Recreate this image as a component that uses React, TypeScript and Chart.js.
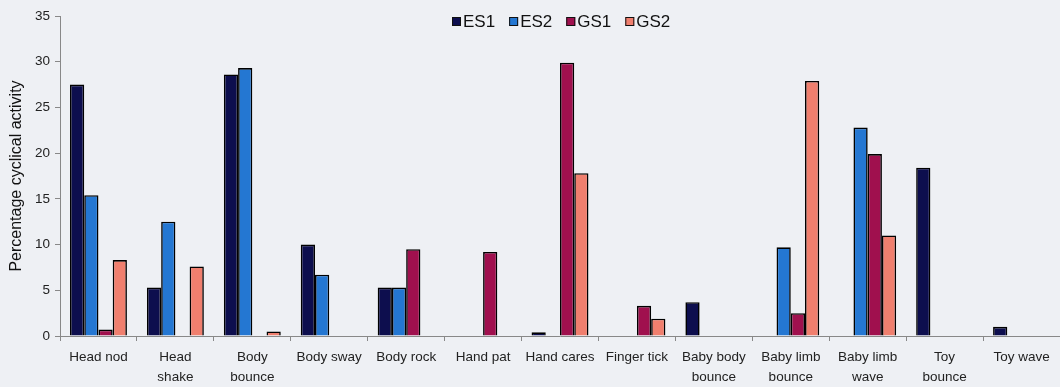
import React, { useEffect, useRef } from "react";
import { Chart, registerables } from "chart.js";

Chart.register(...registerables);

const categories: (string | string[])[] = [
  "Head nod",
  ["Head", "shake"],
  ["Body", "bounce"],
  "Body sway",
  "Body rock",
  "Hand pat",
  "Hand cares",
  "Finger tick",
  ["Baby body", "bounce"],
  ["Baby limb", "bounce"],
  ["Baby limb", "wave"],
  ["Toy", "bounce"],
  "Toy wave",
];

const es1 = [27.5, 5.3, 28.6, 10.0, 5.3, 0, 0.4, 0, 3.7, 0, 0, 18.4, 1.0];
const es2 = [15.4, 12.5, 29.3, 6.7, 5.3, 0, 0, 0, 0, 9.7, 22.8, 0, 0];
const gs1 = [0.7, 0, 0, 0, 9.5, 9.2, 29.9, 3.3, 0, 2.5, 19.9, 0, 0];
const gs2 = [8.3, 7.6, 0.5, 0, 0, 0, 17.8, 1.9, 0, 27.9, 11.0, 0, 0];

const seriesNames = ["ES1", "ES2", "GS1", "GS2"];
const seriesColors = ["#0d0e4e", "#2477d2", "#a0104e", "#f07f6e"];
const yTicks = [0, 5, 10, 15, 20, 25, 30, 35];

const FONT = "'Liberation Sans', Arial, sans-serif";

const legendPlugin = {
  id: "customLegend",
  afterDraw(chart: any) {
    const ctx = chart.ctx;
    ctx.save();
    ctx.font = `17px ${FONT}`;
    ctx.textBaseline = "middle";
    const box = 9;
    const gapBox = 2;
    const gapItem = 14;
    const items = chart.data.datasets.map((d: any) => ({
      label: d.label,
      color: d.backgroundColor,
      w: box + gapBox + ctx.measureText(d.label).width,
    }));
    const total = items.reduce((s: number, it: any) => s + it.w, 0) + gapItem * (items.length - 1);
    let x = Math.round(561 - total / 2);
    const y = 21.5;
    for (const it of items) {
      ctx.fillStyle = it.color;
      ctx.fillRect(x, y - box / 2, box, box);
      ctx.strokeStyle = "#111";
      ctx.lineWidth = 1;
      ctx.strokeRect(x + 0.5, y - box / 2 + 0.5, box - 1, box - 1);
      ctx.fillStyle = "#111";
      ctx.fillText(it.label, x + box + gapBox, y + 1);
      x += it.w + gapItem;
    }
    ctx.restore();
  },
};

export default function App() {
  const ref = useRef<HTMLCanvasElement>(null);

  useEffect(() => {
    document.body.style.margin = "0";
    const data = [es1, es2, gs1, gs2];
    const chart = new Chart(ref.current!, {
      type: "bar",
      data: {
        labels: categories,
        datasets: seriesNames.map((name, i) => ({
          label: name,
          data: data[i],
          backgroundColor: seriesColors[i],
          borderColor: "#000000",
          borderWidth: 1.6,
          categoryPercentage: 0.74,
          barPercentage: 1.0,
        })),
      },
      options: {
        animation: false,
        responsive: false,
        maintainAspectRatio: false,
        layout: { padding: { top: 16, right: 0, left: 0, bottom: 0 } },
        plugins: {
          legend: { display: false },
          tooltip: { enabled: false },
        },
        scales: {
          x: {
            grid: {
              display: true,
              drawOnChartArea: false,
              offset: true,
              tickLength: 5,
              color: "#888888",
            },
            border: { color: "#888888", width: 1 },
            ticks: {
              color: "#222",
              font: { family: FONT, size: 13.5, lineHeight: 1.48 },
              maxRotation: 0,
              autoSkip: false,
              padding: 6,
            },
            afterFit(scale: any) {
              scale.height = 51;
            },
          },
          y: {
            min: 0,
            max: 35,
            afterBuildTicks(scale: any) {
              scale.ticks = yTicks.map((v) => ({ value: v }));
            },
            grid: {
              display: true,
              drawOnChartArea: false,
              tickLength: 5,
              color: "#888888",
            },
            border: { color: "#888888", width: 1 },
            ticks: {
              color: "#222",
              font: { family: FONT, size: 13.5 },
              padding: 5,
            },
            title: {
              display: true,
              text: "Percentage cyclical activity",
              color: "#111",
              font: { family: FONT, size: 16 },
              padding: { top: 7, bottom: 4 },
            },
            afterFit(scale: any) {
              scale.width = 60;
            },
          },
        },
      },
      plugins: [legendPlugin],
    });
    return () => chart.destroy();
  }, []);

  return (
    <div
      style={{
        position: "absolute",
        left: 0,
        top: 0,
        width: 1060,
        height: 387,
        background: "#eef0f4",
      }}
    >
      <canvas ref={ref} width={1060} height={387} style={{ width: 1060, height: 387 }} />
    </div>
  );
}
